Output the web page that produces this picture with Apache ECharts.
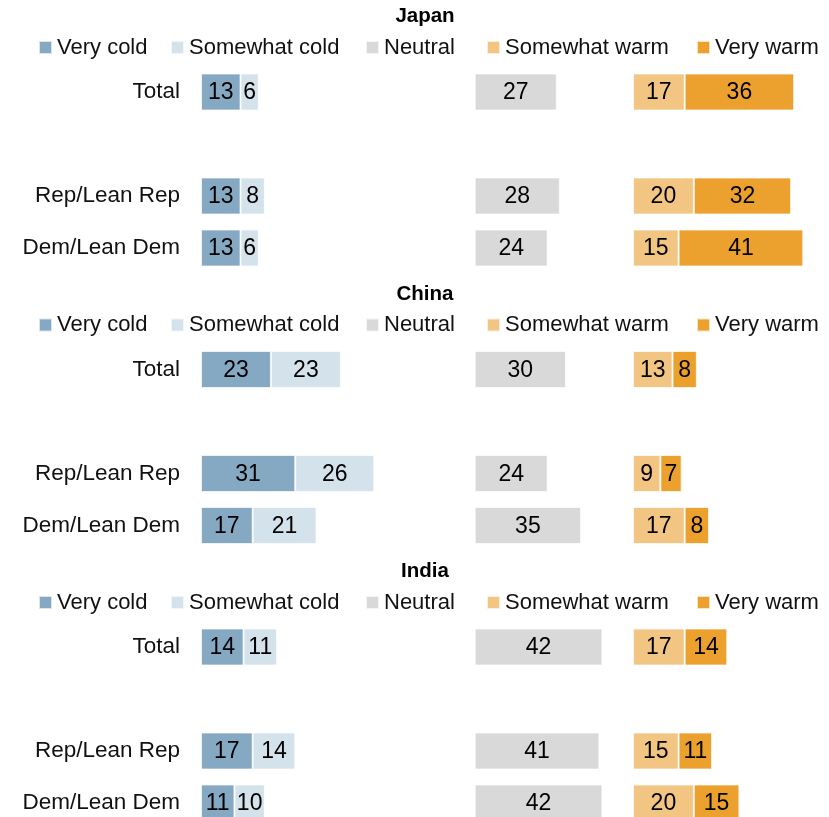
<!DOCTYPE html>
<html>
<head>
<meta charset="utf-8">
<script src="https://cdn.jsdelivr.net/npm/echarts@6/dist/echarts.min.js"></script>
<style>
  html, body { margin: 0; padding: 0; background: #fff; overflow: hidden; }
  #chart { width: 829px; height: 817px; }
</style>
</head>
<body>
<div id="chart"></div>
<script>
// Feelings thermometer by party, one panel per country
const countries = ['Japan', 'China', 'India'];
const rowLabels = ['Total', '', 'Rep/Lean Rep', 'Dem/Lean Dem'];
const seriesNames = ['Very cold', 'Somewhat cold', 'Neutral', 'Somewhat warm', 'Very warm'];

// Values per row: Total, Rep/Lean Rep, Dem/Lean Dem
const japanVeryCold     = [13, 13, 13];
const japanSomewhatCold = [6, 8, 6];
const japanNeutral      = [27, 28, 24];
const japanSomewhatWarm = [17, 20, 15];
const japanVeryWarm     = [36, 32, 41];

const chinaVeryCold     = [23, 31, 17];
const chinaSomewhatCold = [23, 26, 21];
const chinaNeutral      = [30, 24, 35];
const chinaSomewhatWarm = [13, 9, 17];
const chinaVeryWarm     = [8, 7, 8];

const indiaVeryCold     = [14, 17, 11];
const indiaSomewhatCold = [11, 14, 10];
const indiaNeutral      = [42, 41, 42];
const indiaSomewhatWarm = [17, 15, 20];
const indiaVeryWarm     = [14, 11, 15];

const colors = {
  'Very cold': '#85a8c3',
  'Somewhat cold': '#d4e2eb',
  'Neutral': '#d9d9d9',
  'Somewhat warm': '#f2c583',
  'Very warm': '#eca12f'
};

const panelData = [
  [japanVeryCold, japanSomewhatCold, japanNeutral, japanSomewhatWarm, japanVeryWarm],
  [chinaVeryCold, chinaSomewhatCold, chinaNeutral, chinaSomewhatWarm, chinaVeryWarm],
  [indiaVeryCold, indiaSomewhatCold, indiaNeutral, indiaSomewhatWarm, indiaVeryWarm]
];

const FONT = "'Liberation Sans', Arial, sans-serif";
const TEXT_SIZE = 22.5;
const LEGEND_SIZE = 22;
const PX_PER_UNIT = 3.04;
const panelStep = 277.5;
const legendX = [38, 170, 365, 486, 696];
// three column groups: cold, neutral, warm
const columns = [
  { left: 201,   max: 60, members: [0, 1] },
  { left: 474.7, max: 50, members: [2] },
  { left: 633,   max: 60, members: [3, 4] }
];

// insert the empty spacer row after Total
function withGap(arr) { return [arr[0], '-', arr[1], arr[2]]; }

const grid = [], xAxis = [], yAxis = [], series = [], legend = [], graphic = [];

countries.forEach((country, p) => {
  const off = p * panelStep;
  graphic.push({
    type: 'text', x: 425, y: 16.5 + off,
    style: { text: country, font: "bold 20.5px " + FONT, fill: '#000', align: 'center', verticalAlign: 'middle' }
  });
  seriesNames.forEach((name, i) => {
    legend.push({
      data: [name], left: legendX[i], top: 36.5 + off, padding: 0,
      itemWidth: 13, itemHeight: 13, icon: 'rect', selectedMode: false,
      textStyle: { fontFamily: FONT, fontSize: LEGEND_SIZE, color: '#111' }
    });
  });
  columns.forEach((col, c) => {
    const gi = grid.length;
    grid.push({
      left: col.left, top: 66 + off, width: col.max * PX_PER_UNIT, height: 208,
      outerBoundsMode: 'none'
    });
    xAxis.push({ type: 'value', gridIndex: gi, min: 0, max: col.max, show: false });
    yAxis.push({
      type: 'category', gridIndex: gi, data: rowLabels, inverse: true,
      axisLine: { show: false }, axisTick: { show: false }, splitLine: { show: false },
      axisLabel: { show: c === 0, fontFamily: FONT, fontSize: TEXT_SIZE, color: '#111', margin: 21 }
    });
    col.members.forEach(si => {
      series.push({
        type: 'bar', name: seriesNames[si], xAxisIndex: gi, yAxisIndex: gi,
        stack: 'p' + p + 'c' + c, barWidth: 37,
        data: withGap(panelData[p][si]),
        itemStyle: { color: colors[seriesNames[si]], borderColor: 'rgba(255,255,255,0.7)', borderWidth: 1 },
        label: { show: true, position: 'inside', fontFamily: FONT, fontSize: 23, color: '#000', offset: [0, 1] },
        emphasis: { disabled: true }
      });
    });
  });
});

const chart = echarts.init(document.getElementById('chart'));
chart.setOption({
  animation: false,
  color: seriesNames.map(n => colors[n]),
  grid, xAxis, yAxis, series, legend, graphic
});
</script>
</body>
</html>
